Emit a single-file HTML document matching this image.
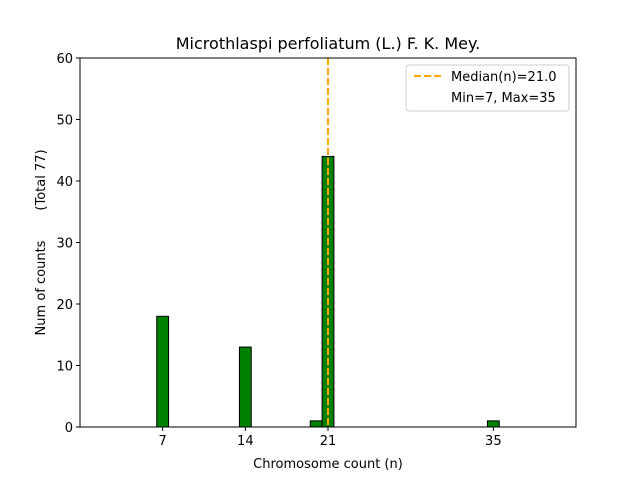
<!DOCTYPE html>
<html><head><meta charset="utf-8"><style>
body{margin:0;background:#fff}
svg{display:block;font-family:"DejaVu Sans","Liberation Sans",sans-serif}
</style></head><body>
<svg width="640" height="480">
<rect width="640" height="480" fill="#fff"/>
<text x="328" y="49" text-anchor="middle" font-size="16">Microthlaspi perfoliatum (L.) F. K. Mey.</text>
<g id="bars"></g>
<g id="axes"></g>
<text x="328" y="468" text-anchor="middle" font-size="13">Chromosome count (n)</text>
<text transform="translate(45,288) rotate(-90)" text-anchor="middle" font-size="13">Num of counts</text>
<text transform="translate(45,180) rotate(-90)" text-anchor="middle" font-size="13">(Total 77)</text>
<g>
<rect x="406" y="65" width="163" height="46" rx="3" fill="#fff" stroke="#ccc"/>
<line x1="414" y1="76" x2="442" y2="76" stroke="#ffa500" stroke-width="2" stroke-dasharray="7,3"/>
<text x="451" y="81" font-size="13">Median(n)=21.0</text>
<text x="451" y="102" font-size="13">Min=7, Max=35</text>
</g>
</svg>
<script>
const counts=[7,14,20,21,35];
const freqs=[18,13,1,44,1];
const xTicks=[7,14,21,35];
const yTicks=[0,10,20,30,40,50,60];
const median=21;
const binStart=6.5, binEnd=38.5;
const L=80,R=576,T=58,B=427,xMin=0,xMax=42,yMax=60;
const sx=v=>L+(v-xMin)/(xMax-xMin)*(R-L);
const sy=v=>B-v/yMax*(B-T);
const NS="http://www.w3.org/2000/svg";
const mk=(t,a,p)=>{const e=document.createElementNS(NS,t);for(const k in a)e.setAttribute(k,a[k]);p.appendChild(e);return e;};
const bars=document.getElementById('bars'),axes=document.getElementById('axes');
for(let b=binStart;b<binEnd-0.01;b+=1){
 const c=b+0.5;const i=counts.indexOf(c);const v=i>=0?freqs[i]:0;
 const r=mk('rect',{x:sx(b),y:sy(v),width:sx(b+1)-sx(b),height:B-sy(v),fill:'green',stroke:'#000','stroke-width':1},bars);
 
 
}
const ml=mk('line',{x1:sx(median),x2:sx(median),y1:T,y2:B,stroke:'#ffa500','stroke-width':2,'stroke-dasharray':'7,3'},bars);


const fr=mk('rect',{x:L,y:T,width:R-L,height:B-T,fill:'none',stroke:'#000','stroke-width':1},axes);


xTicks.forEach(t=>{
 mk('line',{x1:sx(t),x2:sx(t),y1:B,y2:B+4,stroke:'#000'},axes);
 const tx=mk('text',{x:sx(t),y:B+18,'text-anchor':'middle','font-size':13},axes);tx.textContent=t;
 
 
});
yTicks.forEach(t=>{
 mk('line',{x1:L-4,x2:L,y1:sy(t),y2:sy(t),stroke:'#000'},axes);
 const tx=mk('text',{x:L-7,y:sy(t)+5,'text-anchor':'end','font-size':13},axes);tx.textContent=t;
 
 
});
</script>
</body></html>
